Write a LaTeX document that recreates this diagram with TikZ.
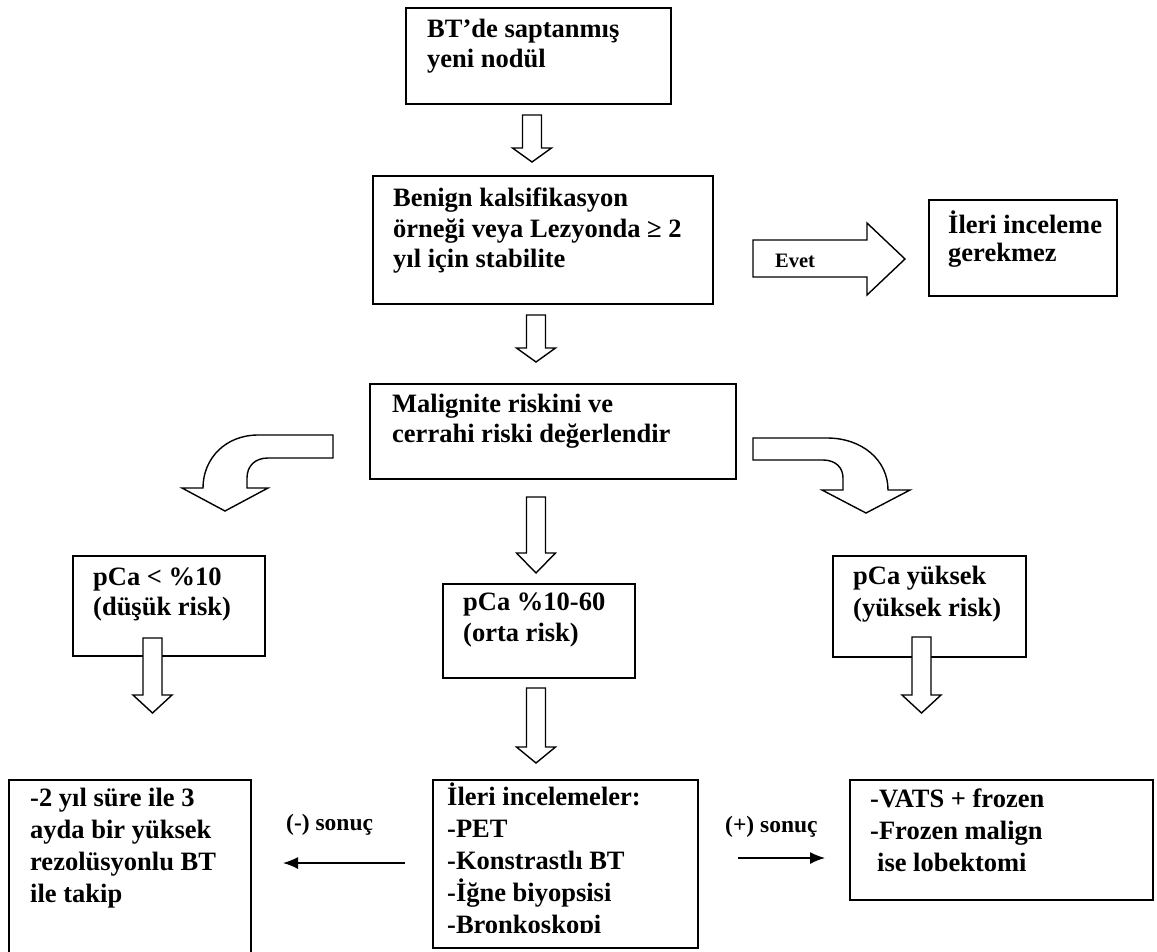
\documentclass[tikz,border=0pt]{standalone}
\usepackage{fontspec}
\setmainfont{Liberation Serif}
\usetikzlibrary{positioning, arrows.meta}

% hollow block arrow pointing down: x, shaft top, head top, tip
\newcommand{\blockdown}[4]{%
  \draw[hollow] (#1-9.5,#2) -- (#1+9.5,#2) -- (#1+9.5,#3) -- (#1+19.5,#3)
    -- (#1,#4) -- (#1-19.5,#3) -- (#1-9.5,#3) -- cycle;}

\tikzset{
  box/.style={draw, line width=1.6pt, anchor=north west, inner sep=0pt},
  txt/.style={anchor=north west, inner sep=0pt, align=left,
    font=\bfseries\fontsize{26.5}{#1}\selectfont,
    execute at begin node=\rule{0pt}{24pt}},
  txt/.default=30,
  hollow/.style={draw, line width=1.4pt, fill=white, line join=miter},
  result/.style={anchor=base west, inner sep=0pt, font=\bfseries\fontsize{23.5}{26}\selectfont},
  thin arrow/.style={line width=1.4pt, -{Latex[length=15pt,width=12pt]}}
}

\begin{document}
\begin{tikzpicture}[x=1pt, y=-1pt]
  \useasboundingbox (0,0) rectangle (1157,951);

  % boxes
  \node[box, minimum width=265, minimum height=96]  (detected) at (405,7)   {};
  \node[box, minimum width=340, minimum height=128] (stable)   at (372,175) {};
  \node[box, minimum width=188, minimum height=96]  (noneed)   at (928,199) {};
  \node[box, minimum width=366, minimum height=95]  (assess)   at (369,383) {};
  \node[box, minimum width=192, minimum height=100] (lowrisk)  at (72,555)  {};
  \node[box, minimum width=192, minimum height=94]  (midrisk)  at (442,583) {};
  \node[box, minimum width=193, minimum height=101] (highrisk) at (832,555) {};
  \node[box, minimum width=242, minimum height=190] (followup) at (8,779)   {};
  \node[box, minimum width=265, minimum height=168] (tests)    at (432,779) {};
  \node[box, minimum width=303, minimum height=120] (surgery)  at (849,779) {};

  % texts
  \node[txt] (detectedtext) at (427,43-24) {BT’de saptanmış\\yeni nodül};
  \node[txt=30.5] (stabletext) at (393,212-24)
    {Benign kalsifikasyon\\örneği veya Lezyonda ≥ 2\\yıl için stabilite};
  \node[txt=28] (noneedtext) at (948,235-24) {İleri inceleme\\gerekmez};
  \node[txt] (assesstext) at (392,418-24) {Malignite riskini ve\\cerrahi riski değerlendir};
  \node[txt] (lowtext)  at (93,592-24)  {pCa < \%10\\(düşük risk)};
  \node[txt=31] (midtext)  at (463,617-24) {pCa \%10-60\\(orta risk)};
  \node[txt=32] (hightext) at (853,590-24) {pCa yüksek\\(yüksek risk)};
  \node[txt=32] (followuptext) at (30,812-24)
    {-2 yıl süre ile 3\\ayda bir yüksek\\rezolüsyonlu BT\\ile takip};
  \begin{scope}
    \clip (432,779) rectangle (697,932);
    \node[txt=32] (teststext) at (447,807-24)
      {İleri incelemeler:\\-PET\\-Konstrastlı BT\\-İğne biyopsisi\\-Bronkoskopi};
  \end{scope}
  \node[txt=32] (surgerytext) at (870,813-24)
    {-VATS + frozen\\-Frozen malign\\\hspace*{7pt}ise lobektomi};

  % block arrows
  \blockdown{532}{115}{148}{162}
  \blockdown{536}{315}{348}{362}
  \blockdown{536}{497}{553}{573}
  \blockdown{152.5}{638}{695}{713}
  \blockdown{921.5}{637}{695}{713}
  \blockdown{536}{688}{747}{763}

  \draw[hollow] (753,240) -- (867,240) -- (867,223) -- (905,259)
    -- (867,295) -- (867,277) -- (753,277) -- cycle;
  \node[anchor=base west, inner sep=0pt, font=\bfseries\fontsize{20.5}{24}\selectfont]
    (yes) at (775,267) {Evet};

  \draw[hollow] (333,435) -- (258,435) .. controls (226,435) and (203,458) .. (203,488)
    -- (182,488) -- (225,511) -- (268,488) -- (247,488) -- (247,478)
    .. controls (247,466) and (255,458) .. (268,458) -- (333,458) -- cycle;
  \draw[hollow] (753,438) -- (827,438) .. controls (862,438) and (888,460) .. (888,490)
    -- (910,490) -- (866,513) -- (822,490) -- (843,490) -- (843,478)
    .. controls (843,467) and (835,460) .. (823,460) -- (753,460) -- cycle;

  % results
  \coordinate (negstart) at (405,863);
  \coordinate (negend)   at (283,863);
  \coordinate (posstart) at (738,858);
  \coordinate (posend)   at (825,858);
  \node[result] (neg) at (286,830) {(-) sonuç};
  \node[result] (pos) at (725,832) {(+) sonuç};
  \draw[thin arrow] (negstart) -- (negend);
  \draw[thin arrow] (posstart) -- (posend);
\end{tikzpicture}
\end{document}
